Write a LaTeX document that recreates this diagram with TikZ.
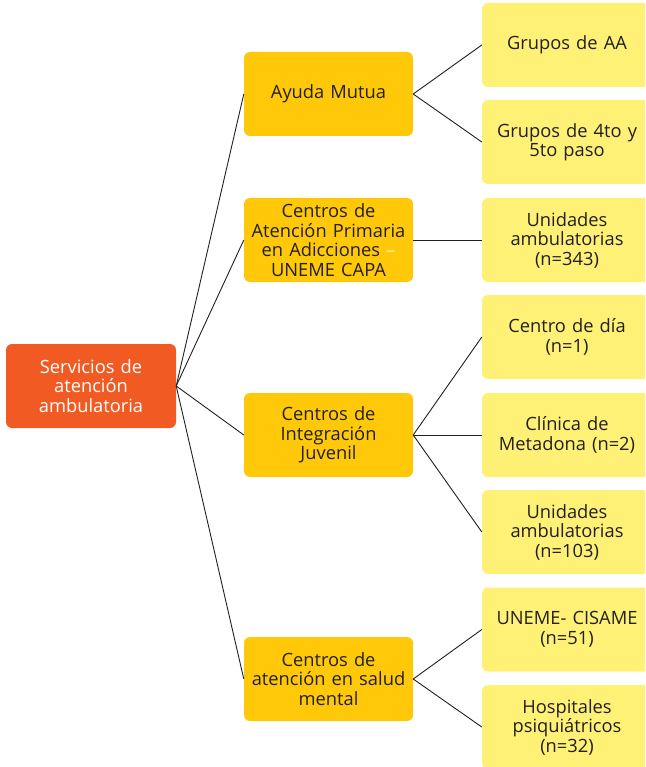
\documentclass[tikz,border=0pt]{standalone}
\usepackage{fontspec}
\setmainfont{Open Sans}
\definecolor{rootc}{HTML}{F15A22}
\definecolor{midc}{HTML}{FFC90A}
\definecolor{leafc}{HTML}{FFF176}
\definecolor{txt}{HTML}{231F20}
\definecolor{dashc}{HTML}{FFF3A0}
\tikzset{
  box/.style={rounded corners=6pt, minimum height=84pt, align=center, inner sep=2pt,
    font=\fontsize{18.3}{19.5}\selectfont, text=txt},
  rootbox/.style={box, fill=rootc, text=white, minimum width=170pt, text width=166pt},
  midbox/.style={box, fill=midc, minimum width=169pt, text width=165pt},
  leafbox/.style={box, fill=leafc, minimum width=170pt, text width=166pt},
  conn/.style={draw=txt, line width=0.9pt}
}
\begin{document}
\begin{tikzpicture}[x=1pt,y=-1pt]
\useasboundingbox (0,0) rectangle (645,767);
\clip (0,0) rectangle (645,767);
\node[rootbox] (root) at (91,386) {Servicios de\\atención\\ambulatoria};
\node[midbox] (m1) at (328.5,94) {Ayuda Mutua};
\node[midbox] (m2) at (328.5,240) {Centros de\\Atención Primaria\\en Adicciones \textcolor{dashc}{–}\\UNEME CAPA};
\node[midbox] (m3) at (328.5,435) {Centros de\\Integración\\Juvenil};
\node[midbox] (m4) at (328.5,679) {Centros de\\atención en salud\\mental};
\node[leafbox] (l1) at (567,45) {Grupos de AA};
\node[leafbox] (l2) at (567,142) {Grupos de 4to y\\5to paso};
\node[leafbox] (l3) at (567,240) {Unidades\\ambulatorias\\(n=343)};
\node[leafbox] (l4) at (567,337) {Centro de día\\(n=1)};
\node[leafbox] (l5) at (567,435) {Clínica de\\Metadona (n=2)};
\node[leafbox] (l6) at (567,532) {Unidades\\ambulatorias\\(n=103)};
\node[leafbox] (l7) at (567,629.5) {UNEME- CISAME\\(n=51)};
\node[leafbox] (l8) at (567,727) {Hospitales\\psiquiátricos\\(n=32)};
\foreach \m in {m1,m2,m3,m4} \draw[conn] (root.east) -- (\m.west);
\draw[conn] (m1.east) -- (l1.west);
\draw[conn] (m1.east) -- (l2.west);
\draw[conn] (m2.east) -- (l3.west);
\draw[conn] (m3.east) -- (l4.west);
\draw[conn] (m3.east) -- (l5.west);
\draw[conn] (m3.east) -- (l6.west);
\draw[conn] (m4.east) -- (l7.west);
\draw[conn] (m4.east) -- (l8.west);
\end{tikzpicture}
\end{document}
